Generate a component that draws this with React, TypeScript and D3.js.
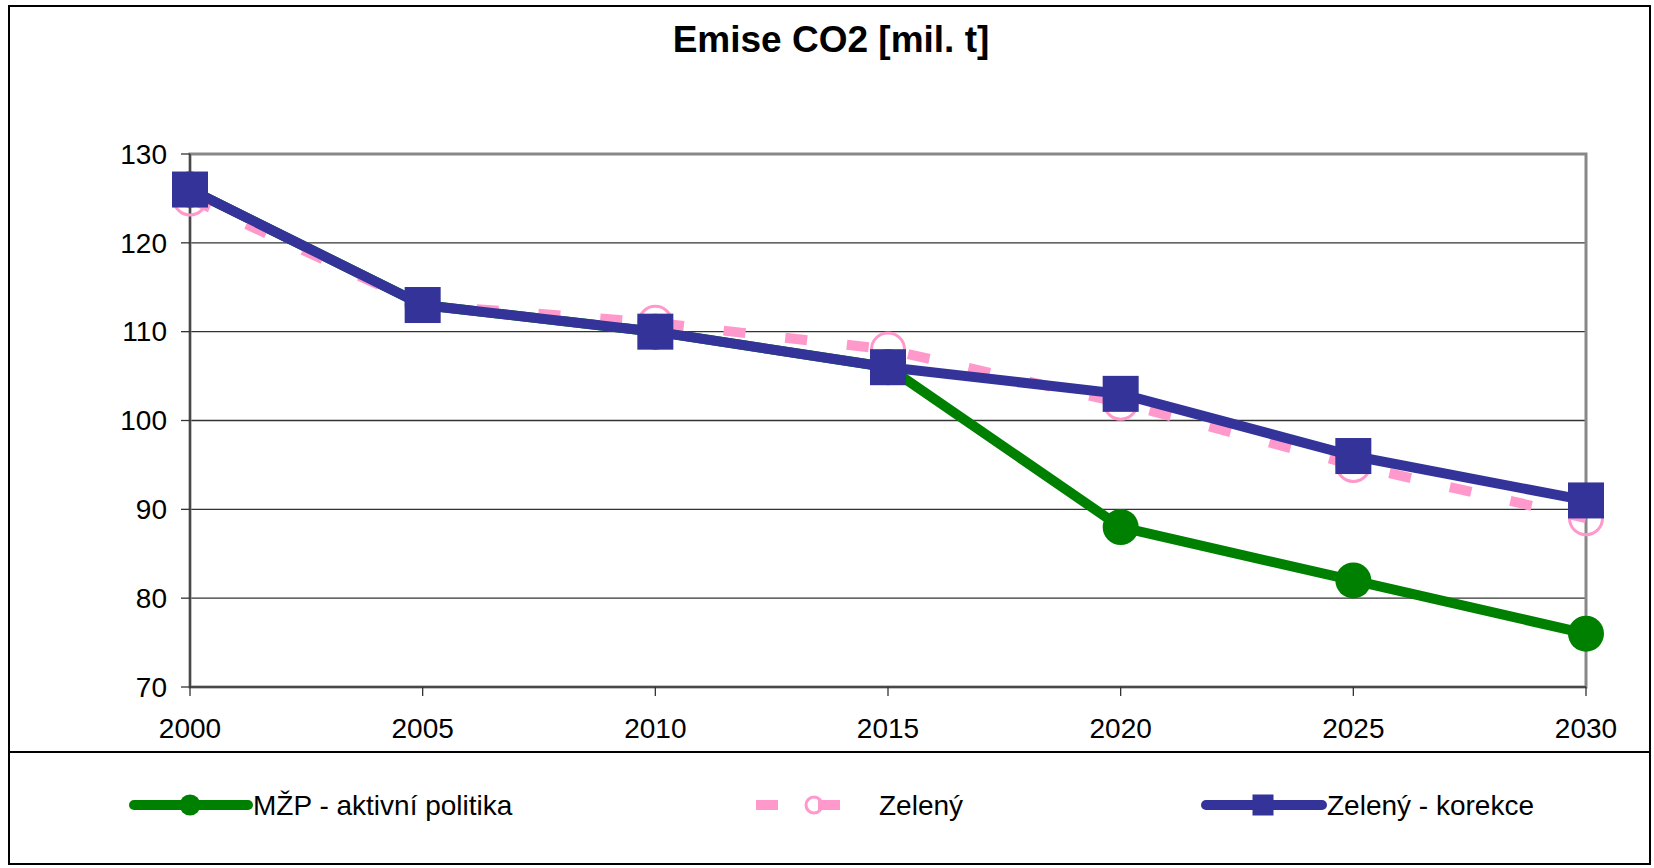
import React from "react";
import * as d3 from "d3";

const years = [2000, 2005, 2010, 2015, 2020, 2025, 2030];
const mzpValues = [126, 113, 110, 106, 88, 82, 76];
const zelenyValues = [125, 113, 111, 108, 102, 95, 89];
const korekceValues = [126, 113, 110, 106, 103, 96, 91];
const yTicks = [70, 80, 90, 100, 110, 120, 130];
const seriesNames = ["MŽP - aktivní politika", "Zelený", "Zelený - korekce"];
const title = "Emise CO2 [mil. t]";

const W = 1654;
const H = 868;
const plot = { left: 190, right: 1586, top: 154, bottom: 687 };
const FONT = "'Liberation Sans', Arial, sans-serif";
const GREEN = "#008000";
const PINK = "#FF99CC";
const BLUE = "#333399";

export default function App() {
  const x = d3.scaleLinear().domain([2000, 2030]).range([plot.left, plot.right]);
  const y = d3.scaleLinear().domain([70, 130]).range([plot.bottom, plot.top]);
  const line = d3
    .line<[number, number]>()
    .x((d) => x(d[0]))
    .y((d) => y(d[1]));
  const pts = (vals: number[]) => years.map((yr, i) => [yr, vals[i]] as [number, number]);

  const legendY = 805;

  return (
    <svg
      width={W}
      height={H}
      style={{ position: "absolute", left: 0, top: 0, display: "block", background: "#fff" }}
    >
      <rect x={0} y={0} width={W} height={H} fill="#fff" />
      {/* outer border */}
      <rect x={9} y={6} width={1641} height={858} fill="none" stroke="#000" strokeWidth={2} />
      {/* legend separator */}
      <line x1={9} x2={1650} y1={752} y2={752} stroke="#000" strokeWidth={2} />

      {/* title */}
      <text x={831} y={52} textAnchor="middle" fontFamily={FONT} fontWeight="bold" fontSize={37} fill="#000">
        {title}
      </text>

      {/* gridlines */}
      {yTicks.slice(1, -1).map((t) => (
        <line key={t} x1={plot.left} x2={plot.right} y1={y(t)} y2={y(t)} stroke="#333" strokeWidth={1.3} />
      ))}
      {/* plot border */}
      <rect
        x={plot.left}
        y={plot.top}
        width={plot.right - plot.left}
        height={plot.bottom - plot.top}
        fill="none"
        stroke="#888"
        strokeWidth={3}
      />
      {/* axes */}
      <line x1={plot.left} x2={plot.left} y1={plot.top} y2={plot.bottom} stroke="#333" strokeWidth={1.5} />
      <line x1={plot.left} x2={plot.right} y1={plot.bottom} y2={plot.bottom} stroke="#333" strokeWidth={1.5} />
      {yTicks.map((t) => (
        <g key={t}>
          <line x1={plot.left - 9} x2={plot.left} y1={y(t)} y2={y(t)} stroke="#333" strokeWidth={1.3} />
          <text
            x={167}
            y={y(t)}
            dy="0.35em"
            textAnchor="end"
            fontFamily={FONT}
            fontSize={28}
            fill="#000"
          >
            {t}
          </text>
        </g>
      ))}
      {years.map((yr) => (
        <g key={yr}>
          <line x1={x(yr)} x2={x(yr)} y1={plot.bottom} y2={plot.bottom + 9} stroke="#333" strokeWidth={1.3} />
          <text x={x(yr)} y={738} textAnchor="middle" fontFamily={FONT} fontSize={28} fill="#000">
            {yr}
          </text>
        </g>
      ))}

      {/* series: green */}
      <path d={line(pts(mzpValues)) || ""} fill="none" stroke={GREEN} strokeWidth={10} strokeLinejoin="round" />
      {pts(mzpValues).map((p, i) => (
        <circle key={"g" + i} cx={x(p[0])} cy={y(p[1])} r={18} fill={GREEN} />
      ))}
      {/* series: pink dashed */}
      <path
        d={line(pts(zelenyValues)) || ""}
        fill="none"
        stroke={PINK}
        strokeWidth={10}
        strokeDasharray="22 40"
      />
      {pts(zelenyValues).map((p, i) => (
        <circle key={"p" + i} cx={x(p[0])} cy={y(p[1])} r={16.5} fill="none" stroke={PINK} strokeWidth={3} />
      ))}
      {/* series: blue */}
      <path d={line(pts(korekceValues)) || ""} fill="none" stroke={BLUE} strokeWidth={10} strokeLinejoin="round" />
      {pts(korekceValues).map((p, i) => (
        <rect key={"b" + i} x={x(p[0]) - 18} y={y(p[1]) - 18} width={36} height={36} fill={BLUE} />
      ))}

      {/* legend */}
      <line x1={134} x2={248} y1={legendY} y2={legendY} stroke={GREEN} strokeWidth={10} strokeLinecap="round" />
      <circle cx={190} cy={legendY} r={10.5} fill={GREEN} />
      <text x={253} y={legendY} dy="0.35em" fontFamily={FONT} fontSize={28} fill="#000">
        {seriesNames[0]}
      </text>

      <line
        x1={756}
        x2={842}
        y1={legendY}
        y2={legendY}
        stroke={PINK}
        strokeWidth={10}
        strokeDasharray="22 40"
      />
      <circle cx={814} cy={legendY} r={8} fill="none" stroke={PINK} strokeWidth={3} />
      <text x={879} y={legendY} dy="0.35em" fontFamily={FONT} fontSize={28} fill="#000">
        {seriesNames[1]}
      </text>

      <line x1={1206} x2={1322} y1={legendY} y2={legendY} stroke={BLUE} strokeWidth={10} strokeLinecap="round" />
      <rect x={1263 - 10.5} y={legendY - 10.5} width={21} height={21} fill={BLUE} />
      <text x={1327} y={legendY} dy="0.35em" fontFamily={FONT} fontSize={28} fill="#000">
        {seriesNames[2]}
      </text>
    </svg>
  );
}
